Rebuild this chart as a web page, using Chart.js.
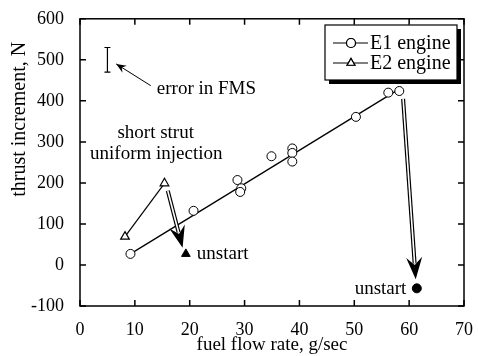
<!DOCTYPE html>
<html>
<head>
<meta charset="utf-8">
<script src="https://cdn.jsdelivr.net/npm/chart.js@4/dist/chart.umd.min.js"></script>
<style>
html, body { margin: 0; padding: 0; background: #fff; }
#wrap { width: 478px; height: 356px; }
</style>
</head>
<body>
<div id="wrap"><canvas id="chart"></canvas></div>
<script>
// values
const e1Flow = [9.2, 20.7, 28.7, 29.4, 29.2, 34.9, 38.7, 38.7, 38.7, 50.3, 56.2, 58.2];
const e1Thrust = [27, 132, 207, 187, 178, 265, 284, 273, 252, 361, 420, 424];
const e1FitFlow = [9.2, 57.5];
const e1FitThrust = [27, 423];
const e2Flow = [8.2, 15.4];
const e2Thrust = [69, 199];
const unstartE2 = [19.3, 27];
const unstartE1 = [61.4, -57];
const xTicks = [0, 10, 20, 30, 40, 50, 60, 70];
const yTicks = [-100, 0, 100, 200, 300, 400, 500, 600];
const errorBar = { x: 5, lo: 470, hi: 530 };
const yTitle = 'thrust increment, N';

const serif = '"Liberation Serif", "DejaVu Serif", serif';

function pts(xs, ys) { return xs.map((x, i) => ({ x: x, y: ys[i] })); }

function arrowHead(ctx, x1, y1, x2, y2, len, wid) {
	const a = Math.atan2(y2 - y1, x2 - x1);
	ctx.save();
	ctx.translate(x2, y2);
	ctx.rotate(a);
	ctx.beginPath();
	ctx.moveTo(0, 0);
	ctx.lineTo(-len, -wid);
	ctx.lineTo(-len * 0.65, 0);
	ctx.lineTo(-len, wid);
	ctx.closePath();
	ctx.fill();
	ctx.restore();
}

function hollowArrow(ctx, x1, y1, x2, y2) {
	const a = Math.atan2(y2 - y1, x2 - x1);
	const ex = x2 - Math.cos(a) * 16, ey = y2 - Math.sin(a) * 16;
	ctx.lineCap = 'butt';
	ctx.strokeStyle = '#000';
	ctx.lineWidth = 4;
	ctx.beginPath(); ctx.moveTo(x1, y1); ctx.lineTo(ex, ey); ctx.stroke();
	ctx.strokeStyle = '#fff';
	ctx.lineWidth = 1.6;
	ctx.beginPath(); ctx.moveTo(x1, y1); ctx.lineTo(ex, ey); ctx.stroke();
	ctx.fillStyle = '#000';
	arrowHead(ctx, x1, y1, x2, y2, 22, 8);
}

const decor = {
	id: 'decor',
	afterDraw(chart) {
		const ctx = chart.ctx, xs = chart.scales.x, ys = chart.scales.y, ca = chart.chartArea;
		const X = v => xs.getPixelForValue(v), Y = v => ys.getPixelForValue(v);
		ctx.save();
		// frame and inward ticks on all four sides
		ctx.strokeStyle = '#000';
		ctx.lineWidth = 1.5;
		ctx.strokeRect(ca.left, ca.top, ca.right - ca.left, ca.bottom - ca.top);
		ctx.beginPath();
		xTicks.forEach(v => {
			const p = X(v);
			ctx.moveTo(p, ca.bottom); ctx.lineTo(p, ca.bottom - 6);
			ctx.moveTo(p, ca.top); ctx.lineTo(p, ca.top + 6);
		});
		yTicks.forEach(v => {
			const p = Y(v);
			ctx.moveTo(ca.left, p); ctx.lineTo(ca.left + 6, p);
			ctx.moveTo(ca.right, p); ctx.lineTo(ca.right - 6, p);
		});
		ctx.stroke();

		// y title sits above the middle of the axis in the original
		ctx.save();
		ctx.translate(20, Y(355));
		ctx.rotate(-Math.PI / 2);
		ctx.fillStyle = '#000';
		ctx.font = '20px ' + serif;
		ctx.textAlign = 'center';
		ctx.textBaseline = 'middle';
		ctx.fillText(yTitle, 0, 0);
		ctx.restore();

		// error bar
		ctx.lineWidth = 1.2;
		ctx.beginPath();
		const ex = X(errorBar.x);
		ctx.moveTo(ex, Y(errorBar.lo)); ctx.lineTo(ex, Y(errorBar.hi));
		ctx.moveTo(ex - 3, Y(errorBar.lo)); ctx.lineTo(ex + 3, Y(errorBar.lo));
		ctx.moveTo(ex - 3, Y(errorBar.hi)); ctx.lineTo(ex + 3, Y(errorBar.hi));
		ctx.stroke();

		// thin arrow to error bar
		ctx.lineWidth = 1;
		const ax1 = X(12.9), ay1 = Y(437), ax2 = X(6.6), ay2 = Y(490);
		ctx.beginPath(); ctx.moveTo(ax1, ay1); ctx.lineTo(ax2, ay2); ctx.stroke();
		ctx.fillStyle = '#000';
		arrowHead(ctx, ax1, ay1, ax2, ay2, 10, 4);

		// unstart arrows
		hollowArrow(ctx, X(16.0), Y(181), X(18.7), Y(42));
		hollowArrow(ctx, X(58.9), Y(405), X(61.2), Y(-35));

		// annotations
		ctx.fillStyle = '#000';
		ctx.font = '19px ' + serif;
		ctx.textBaseline = 'middle';
		ctx.textAlign = 'left';
		ctx.fillText('error in FMS', X(14.0), Y(428));
		ctx.fillText('unstart', X(21.3), Y(27));
		ctx.textAlign = 'right';
		ctx.fillText('unstart', X(59.5), Y(-58));
		ctx.textAlign = 'center';
		ctx.fillText('short strut', X(13.8), Y(322));
		ctx.fillText('uniform injection', X(13.9), Y(271));

		// legend box with shadow
		const lx = 325, ly = 25, lw = 132, lh = 55;
		ctx.fillStyle = '#000';
		ctx.fillRect(lx + 4, ly + 4, lw, lh);
		ctx.fillStyle = '#fff';
		ctx.fillRect(lx, ly, lw, lh);
		ctx.strokeStyle = '#000';
		ctx.lineWidth = 1.2;
		ctx.strokeRect(lx, ly, lw, lh);
		const rows = [
			{ label: chart.data.datasets[0].label, style: 'circle', y: ly + 18 },
			{ label: chart.data.datasets[2].label, style: 'triangle', y: ly + 38 }
		];
		rows.forEach(r => {
			ctx.beginPath();
			ctx.moveTo(lx + 8, r.y); ctx.lineTo(lx + 43, r.y);
			ctx.lineWidth = 1.2;
			ctx.stroke();
			ctx.fillStyle = '#fff';
			Chart.helpers.drawPoint(ctx, { pointStyle: r.style, radius: 4.5, borderWidth: 1, rotation: 0 }, lx + 26, r.y);
			ctx.fill();
			ctx.stroke();
			ctx.fillStyle = '#000';
			ctx.textAlign = 'left';
			ctx.font = '20px ' + serif;
			ctx.fillText(r.label, lx + 45, r.y + 1);
		});
		ctx.restore();
	}
};

new Chart(document.getElementById('chart'), {
	type: 'scatter',
	data: {
		datasets: [
			{
				label: 'E1 engine',
				data: pts(e1Flow, e1Thrust),
				pointStyle: 'circle',
				pointRadius: 4.5,
				borderColor: '#000',
				backgroundColor: '#fff',
				borderWidth: 1,
				order: 1
			},
			{
				label: 'E1 fit',
				data: pts(e1FitFlow, e1FitThrust),
				showLine: true,
				pointRadius: 0,
				borderColor: '#000',
				borderWidth: 1.3,
				order: 2
			},
			{
				label: 'E2 engine',
				data: pts(e2Flow, e2Thrust),
				showLine: true,
				pointStyle: 'triangle',
				pointRadius: 5,
				borderColor: '#000',
				backgroundColor: '#fff',
				borderWidth: 1.2,
				order: 1
			},
			{
				label: 'E2 unstart',
				data: [{ x: unstartE2[0], y: unstartE2[1] }],
				pointStyle: 'triangle',
				pointRadius: 5,
				borderColor: '#000',
				backgroundColor: '#000',
				order: 1
			},
			{
				label: 'E1 unstart',
				data: [{ x: unstartE1[0], y: unstartE1[1] }],
				pointStyle: 'circle',
				pointRadius: 4.5,
				borderColor: '#000',
				backgroundColor: '#000',
				order: 1
			}
		]
	},
	options: {
		responsive: true,
		maintainAspectRatio: false,
		animation: false,
		layout: { padding: { top: 17, right: 0, left: 0, bottom: 0 } },
		plugins: { legend: { display: false }, tooltip: { enabled: false } },
		scales: {
			x: {
				type: 'linear', min: 0, max: 70,
				afterBuildTicks: s => { s.ticks = xTicks.map(v => ({ value: v })); },
				afterFit: s => { s.height = 50; },
				grid: { display: false },
				border: { display: false },
				ticks: { color: '#000', padding: 5, font: { family: serif, size: 18 } },
				title: { display: true, text: 'fuel flow rate, g/sec', color: '#000', padding: 0, font: { family: serif, size: 19 } }
			},
			y: {
				type: 'linear', min: -100, max: 600,
				afterBuildTicks: s => { s.ticks = yTicks.map(v => ({ value: v })); },
				afterFit: s => { s.width = 80; },
				grid: { display: false },
				border: { display: false },
				ticks: { color: '#000', padding: 8, font: { family: serif, size: 18 } },
				title: { display: false }
			}
		}
	},
	plugins: [decor]
});
</script>
</body>
</html>
